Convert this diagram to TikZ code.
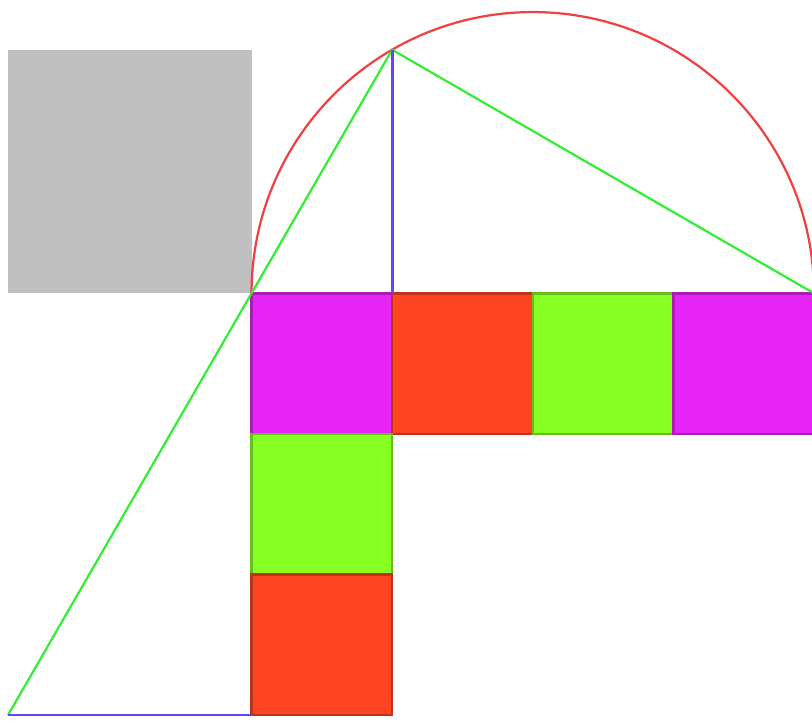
\documentclass[tikz,border=0pt]{standalone}
\usetikzlibrary{calc}
\definecolor{sqgrey}{HTML}{C0C0C0}
\definecolor{sqmagenta}{HTML}{E524F5}
\definecolor{sqred}{HTML}{FF4422}
\definecolor{sqgreen}{HTML}{88FF22}
\definecolor{arcred}{HTML}{F04040}
\definecolor{lngreen}{HTML}{33EE33}
\definecolor{lnblue}{HTML}{6644FF}
\tikzset{
  unitsq/.style={line width=0.5pt},
  magsq/.style={unitsq,fill=sqmagenta,draw=sqmagenta!75!black},
  redsq/.style={unitsq,fill=sqred,draw=sqred!75!black},
  grnsq/.style={unitsq,fill=sqgreen,draw=sqgreen!75!black},
  greensegment/.style={draw=lngreen,line width=0.45pt},
  bluesegment/.style={draw=lnblue,line width=0.55pt},
}
\begin{document}
\begin{tikzpicture}[x=1cm,y=1cm]
  \useasboundingbox (-1.789,-3.064) rectangle (3.986,2.086);
  \clip (-1.789,-3.064) rectangle (3.986,2.086);

  % key points: O origin, H foot of the height, P on the circle
  \coordinate (O) at (0,0);
  \coordinate (H) at (1,0);
  \coordinate (D) at (4,0);
  \coordinate (P) at (1,{sqrt(3)});
  \coordinate (Q) at ({-sqrt(3)},-3);
  \coordinate (R) at (0,-3);

  % square of side sqrt(3)
  \fill[sqgrey] (O) rectangle ({-sqrt(3)},{sqrt(3)});

  % row of unit squares along the diameter
  \draw[magsq] (0,0) rectangle (1,-1);
  \draw[redsq] (1,0) rectangle (2,-1);
  \draw[grnsq] (2,0) rectangle (3,-1);
  \draw[magsq] (3,0) rectangle (4,-1);
  % column below
  \draw[grnsq] (0,-1) rectangle (1,-2);
  \draw[redsq] (0,-2) rectangle (1,-3);

  % half circle on the diameter O--D
  \draw[arcred,line width=0.45pt] (D) arc[start angle=0,end angle=180,radius=2];

  \draw[greensegment] (Q) -- (P) -- (D);
  \draw[bluesegment] (P) -- (H);
  \draw[bluesegment] (Q) -- (R);
\end{tikzpicture}
\end{document}
